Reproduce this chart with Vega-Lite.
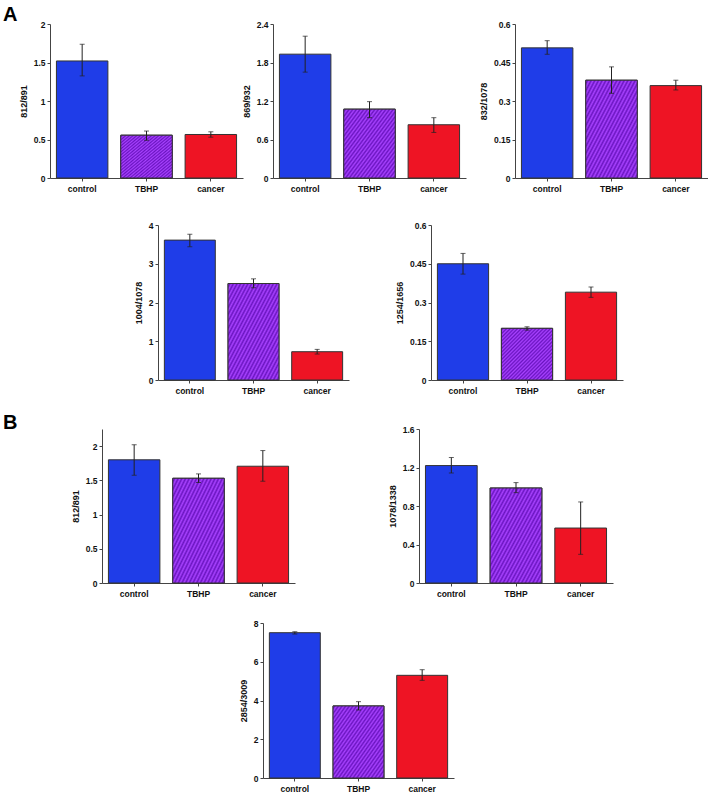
{
  "$schema": "https://vega.github.io/schema/vega-lite/v6.json",
  "padding": {"left": 3, "top": 5, "right": 0, "bottom": 0},
  "datasets": {
    "d": [
      {"panel": "p1", "group": "control", "value": 1.52, "lo": 1.326, "hi": 1.737},
      {"panel": "p1", "group": "TBHP", "value": 0.556, "lo": 0.49, "hi": 0.61},
      {"panel": "p1", "group": "cancer", "value": 0.565, "lo": 0.53, "hi": 0.6},
      {"panel": "p2", "group": "control", "value": 1.93, "lo": 1.65, "hi": 2.21},
      {"panel": "p2", "group": "TBHP", "value": 1.073, "lo": 0.94, "hi": 1.19},
      {"panel": "p2", "group": "cancer", "value": 0.83, "lo": 0.71, "hi": 0.94},
      {"panel": "p3", "group": "control", "value": 0.507, "lo": 0.482, "hi": 0.535},
      {"panel": "p3", "group": "TBHP", "value": 0.381, "lo": 0.33, "hi": 0.433},
      {"panel": "p3", "group": "cancer", "value": 0.36, "lo": 0.343, "hi": 0.381},
      {"panel": "p4", "group": "control", "value": 3.61, "lo": 3.44, "hi": 3.76},
      {"panel": "p4", "group": "TBHP", "value": 2.49, "lo": 2.38, "hi": 2.61},
      {"panel": "p4", "group": "cancer", "value": 0.73, "lo": 0.67, "hi": 0.79},
      {"panel": "p5", "group": "control", "value": 0.45, "lo": 0.41, "hi": 0.49},
      {"panel": "p5", "group": "TBHP", "value": 0.2, "lo": 0.193, "hi": 0.206},
      {"panel": "p5", "group": "cancer", "value": 0.34, "lo": 0.32, "hi": 0.36},
      {"panel": "p6", "group": "control", "value": 1.8, "lo": 1.575, "hi": 2.02},
      {"panel": "p6", "group": "TBHP", "value": 1.53, "lo": 1.468, "hi": 1.594},
      {"panel": "p6", "group": "cancer", "value": 1.706, "lo": 1.487, "hi": 1.935},
      {"panel": "p7", "group": "control", "value": 1.22, "lo": 1.143, "hi": 1.303},
      {"panel": "p7", "group": "TBHP", "value": 0.987, "lo": 0.939, "hi": 1.043},
      {"panel": "p7", "group": "cancer", "value": 0.571, "lo": 0.298, "hi": 0.842},
      {"panel": "p8", "group": "control", "value": 7.5, "lo": 7.43, "hi": 7.55},
      {"panel": "p8", "group": "TBHP", "value": 3.72, "lo": 3.51, "hi": 3.94},
      {"panel": "p8", "group": "cancer", "value": 5.3, "lo": 5.04, "hi": 5.59}
    ]
  },
  "bounds": "full",
  "spacing": 0,
  "vconcat": [
    {
      "title": {"text": "A", "dx": -47, "offset": -5, "frame": "group"},
      "bounds": "flush",
      "spacing": 0,
      "hconcat": [
        {
          "width": 193, "height": 154,
          "data": {"name": "d"},
          "transform": [{"filter": "datum.panel == 'p1'"}],
          "encoding": {"x": {"field": "group", "type": "nominal", "sort": ["control", "TBHP", "cancer"], "scale": {"paddingInner": 0.2, "paddingOuter": 0.1}}},
          "layer": [
            {"mark": {"type": "bar", "stroke": "#333", "strokeWidth": 1},
             "encoding": {"y": {"field": "value", "type": "quantitative", "title": "812/891", "scale": {"domain": [0, 2], "nice": false}, "axis": {"values": [0, 0.5, 1, 1.5, 2]}},
                          "fill": {"field": "group", "type": "nominal", "scale": {"domain": ["control", "TBHP", "cancer"], "range": ["#1f3de8", "#8a2be0", "#ee1424"]}, "legend": null}}},
            {"transform": [{"filter": "datum.group === 'TBHP'"}],
             "mark": {"type": "bar", "stroke": "#333", "strokeWidth": 1, "fill": {"gradient": "linear", "x1": 0, "y1": 0, "x2": 1, "y2": 1, "stops": [{"offset": 0, "color": "#a842ff"}, {"offset": 0.01786, "color": "#6a14c0"}, {"offset": 0.03571, "color": "#a842ff"}, {"offset": 0.05357, "color": "#6a14c0"}, {"offset": 0.07143, "color": "#a842ff"}, {"offset": 0.08929, "color": "#6a14c0"}, {"offset": 0.10714, "color": "#a842ff"}, {"offset": 0.125, "color": "#6a14c0"}, {"offset": 0.14286, "color": "#a842ff"}, {"offset": 0.16071, "color": "#6a14c0"}, {"offset": 0.17857, "color": "#a842ff"}, {"offset": 0.19643, "color": "#6a14c0"}, {"offset": 0.21429, "color": "#a842ff"}, {"offset": 0.23214, "color": "#6a14c0"}, {"offset": 0.25, "color": "#a842ff"}, {"offset": 0.26786, "color": "#6a14c0"}, {"offset": 0.28571, "color": "#a842ff"}, {"offset": 0.30357, "color": "#6a14c0"}, {"offset": 0.32143, "color": "#a842ff"}, {"offset": 0.33929, "color": "#6a14c0"}, {"offset": 0.35714, "color": "#a842ff"}, {"offset": 0.375, "color": "#6a14c0"}, {"offset": 0.39286, "color": "#a842ff"}, {"offset": 0.41071, "color": "#6a14c0"}, {"offset": 0.42857, "color": "#a842ff"}, {"offset": 0.44643, "color": "#6a14c0"}, {"offset": 0.46429, "color": "#a842ff"}, {"offset": 0.48214, "color": "#6a14c0"}, {"offset": 0.5, "color": "#a842ff"}, {"offset": 0.51786, "color": "#6a14c0"}, {"offset": 0.53571, "color": "#a842ff"}, {"offset": 0.55357, "color": "#6a14c0"}, {"offset": 0.57143, "color": "#a842ff"}, {"offset": 0.58929, "color": "#6a14c0"}, {"offset": 0.60714, "color": "#a842ff"}, {"offset": 0.625, "color": "#6a14c0"}, {"offset": 0.64286, "color": "#a842ff"}, {"offset": 0.66071, "color": "#6a14c0"}, {"offset": 0.67857, "color": "#a842ff"}, {"offset": 0.69643, "color": "#6a14c0"}, {"offset": 0.71429, "color": "#a842ff"}, {"offset": 0.73214, "color": "#6a14c0"}, {"offset": 0.75, "color": "#a842ff"}, {"offset": 0.76786, "color": "#6a14c0"}, {"offset": 0.78571, "color": "#a842ff"}, {"offset": 0.80357, "color": "#6a14c0"}, {"offset": 0.82143, "color": "#a842ff"}, {"offset": 0.83929, "color": "#6a14c0"}, {"offset": 0.85714, "color": "#a842ff"}, {"offset": 0.875, "color": "#6a14c0"}, {"offset": 0.89286, "color": "#a842ff"}, {"offset": 0.91071, "color": "#6a14c0"}, {"offset": 0.92857, "color": "#a842ff"}, {"offset": 0.94643, "color": "#6a14c0"}, {"offset": 0.96429, "color": "#a842ff"}, {"offset": 0.98214, "color": "#6a14c0"}, {"offset": 1, "color": "#a842ff"}]}},
             "encoding": {"y": {"field": "value", "type": "quantitative", "title": "812/891", "axis": {"values": [0, 0.5, 1, 1.5, 2]}}}},
            {"mark": {"type": "rule", "color": "#222", "strokeWidth": 1}, "encoding": {"y": {"field": "lo", "type": "quantitative", "title": "812/891", "axis": {"values": [0, 0.5, 1, 1.5, 2]}}, "y2": {"field": "hi"}}},
            {"mark": {"type": "tick", "color": "#222", "size": 5, "thickness": 1}, "encoding": {"y": {"field": "lo", "type": "quantitative", "title": "812/891", "axis": {"values": [0, 0.5, 1, 1.5, 2]}}}},
            {"mark": {"type": "tick", "color": "#222", "size": 5, "thickness": 1}, "encoding": {"y": {"field": "hi", "type": "quantitative", "title": "812/891", "axis": {"values": [0, 0.5, 1, 1.5, 2]}}}}
          ]
        },
        {"width": 30, "height": 1, "data": {"values": []}, "mark": "point"},
        {
          "width": 193, "height": 154,
          "data": {"name": "d"},
          "transform": [{"filter": "datum.panel == 'p2'"}],
          "encoding": {"x": {"field": "group", "type": "nominal", "sort": ["control", "TBHP", "cancer"], "scale": {"paddingInner": 0.2, "paddingOuter": 0.1}}},
          "layer": [
            {"mark": {"type": "bar", "stroke": "#333", "strokeWidth": 1},
             "encoding": {"y": {"field": "value", "type": "quantitative", "title": "869/932", "scale": {"domain": [0, 2.4], "nice": false}, "axis": {"values": [0, 0.6, 1.2, 1.8, 2.4]}},
                          "fill": {"field": "group", "type": "nominal", "scale": {"domain": ["control", "TBHP", "cancer"], "range": ["#1f3de8", "#8a2be0", "#ee1424"]}, "legend": null}}},
            {"transform": [{"filter": "datum.group === 'TBHP'"}],
             "mark": {"type": "bar", "stroke": "#333", "strokeWidth": 1, "fill": {"gradient": "linear", "x1": 0, "y1": 0, "x2": 1, "y2": 1, "stops": [{"offset": 0, "color": "#a842ff"}, {"offset": 0.01786, "color": "#6a14c0"}, {"offset": 0.03571, "color": "#a842ff"}, {"offset": 0.05357, "color": "#6a14c0"}, {"offset": 0.07143, "color": "#a842ff"}, {"offset": 0.08929, "color": "#6a14c0"}, {"offset": 0.10714, "color": "#a842ff"}, {"offset": 0.125, "color": "#6a14c0"}, {"offset": 0.14286, "color": "#a842ff"}, {"offset": 0.16071, "color": "#6a14c0"}, {"offset": 0.17857, "color": "#a842ff"}, {"offset": 0.19643, "color": "#6a14c0"}, {"offset": 0.21429, "color": "#a842ff"}, {"offset": 0.23214, "color": "#6a14c0"}, {"offset": 0.25, "color": "#a842ff"}, {"offset": 0.26786, "color": "#6a14c0"}, {"offset": 0.28571, "color": "#a842ff"}, {"offset": 0.30357, "color": "#6a14c0"}, {"offset": 0.32143, "color": "#a842ff"}, {"offset": 0.33929, "color": "#6a14c0"}, {"offset": 0.35714, "color": "#a842ff"}, {"offset": 0.375, "color": "#6a14c0"}, {"offset": 0.39286, "color": "#a842ff"}, {"offset": 0.41071, "color": "#6a14c0"}, {"offset": 0.42857, "color": "#a842ff"}, {"offset": 0.44643, "color": "#6a14c0"}, {"offset": 0.46429, "color": "#a842ff"}, {"offset": 0.48214, "color": "#6a14c0"}, {"offset": 0.5, "color": "#a842ff"}, {"offset": 0.51786, "color": "#6a14c0"}, {"offset": 0.53571, "color": "#a842ff"}, {"offset": 0.55357, "color": "#6a14c0"}, {"offset": 0.57143, "color": "#a842ff"}, {"offset": 0.58929, "color": "#6a14c0"}, {"offset": 0.60714, "color": "#a842ff"}, {"offset": 0.625, "color": "#6a14c0"}, {"offset": 0.64286, "color": "#a842ff"}, {"offset": 0.66071, "color": "#6a14c0"}, {"offset": 0.67857, "color": "#a842ff"}, {"offset": 0.69643, "color": "#6a14c0"}, {"offset": 0.71429, "color": "#a842ff"}, {"offset": 0.73214, "color": "#6a14c0"}, {"offset": 0.75, "color": "#a842ff"}, {"offset": 0.76786, "color": "#6a14c0"}, {"offset": 0.78571, "color": "#a842ff"}, {"offset": 0.80357, "color": "#6a14c0"}, {"offset": 0.82143, "color": "#a842ff"}, {"offset": 0.83929, "color": "#6a14c0"}, {"offset": 0.85714, "color": "#a842ff"}, {"offset": 0.875, "color": "#6a14c0"}, {"offset": 0.89286, "color": "#a842ff"}, {"offset": 0.91071, "color": "#6a14c0"}, {"offset": 0.92857, "color": "#a842ff"}, {"offset": 0.94643, "color": "#6a14c0"}, {"offset": 0.96429, "color": "#a842ff"}, {"offset": 0.98214, "color": "#6a14c0"}, {"offset": 1, "color": "#a842ff"}]}},
             "encoding": {"y": {"field": "value", "type": "quantitative", "title": "869/932", "axis": {"values": [0, 0.6, 1.2, 1.8, 2.4]}}}},
            {"mark": {"type": "rule", "color": "#222", "strokeWidth": 1}, "encoding": {"y": {"field": "lo", "type": "quantitative", "title": "869/932", "axis": {"values": [0, 0.6, 1.2, 1.8, 2.4]}}, "y2": {"field": "hi"}}},
            {"mark": {"type": "tick", "color": "#222", "size": 5, "thickness": 1}, "encoding": {"y": {"field": "lo", "type": "quantitative", "title": "869/932", "axis": {"values": [0, 0.6, 1.2, 1.8, 2.4]}}}},
            {"mark": {"type": "tick", "color": "#222", "size": 5, "thickness": 1}, "encoding": {"y": {"field": "hi", "type": "quantitative", "title": "869/932", "axis": {"values": [0, 0.6, 1.2, 1.8, 2.4]}}}}
          ]
        },
        {"width": 49, "height": 1, "data": {"values": []}, "mark": "point"},
        {
          "width": 193, "height": 154,
          "data": {"name": "d"},
          "transform": [{"filter": "datum.panel == 'p3'"}],
          "encoding": {"x": {"field": "group", "type": "nominal", "sort": ["control", "TBHP", "cancer"], "scale": {"paddingInner": 0.2, "paddingOuter": 0.1}}},
          "layer": [
            {"mark": {"type": "bar", "stroke": "#333", "strokeWidth": 1},
             "encoding": {"y": {"field": "value", "type": "quantitative", "title": "832/1078", "scale": {"domain": [0, 0.6], "nice": false}, "axis": {"values": [0, 0.15, 0.3, 0.45, 0.6]}},
                          "fill": {"field": "group", "type": "nominal", "scale": {"domain": ["control", "TBHP", "cancer"], "range": ["#1f3de8", "#8a2be0", "#ee1424"]}, "legend": null}}},
            {"transform": [{"filter": "datum.group === 'TBHP'"}],
             "mark": {"type": "bar", "stroke": "#333", "strokeWidth": 1, "fill": {"gradient": "linear", "x1": 0, "y1": 0, "x2": 1, "y2": 1, "stops": [{"offset": 0, "color": "#a842ff"}, {"offset": 0.01786, "color": "#6a14c0"}, {"offset": 0.03571, "color": "#a842ff"}, {"offset": 0.05357, "color": "#6a14c0"}, {"offset": 0.07143, "color": "#a842ff"}, {"offset": 0.08929, "color": "#6a14c0"}, {"offset": 0.10714, "color": "#a842ff"}, {"offset": 0.125, "color": "#6a14c0"}, {"offset": 0.14286, "color": "#a842ff"}, {"offset": 0.16071, "color": "#6a14c0"}, {"offset": 0.17857, "color": "#a842ff"}, {"offset": 0.19643, "color": "#6a14c0"}, {"offset": 0.21429, "color": "#a842ff"}, {"offset": 0.23214, "color": "#6a14c0"}, {"offset": 0.25, "color": "#a842ff"}, {"offset": 0.26786, "color": "#6a14c0"}, {"offset": 0.28571, "color": "#a842ff"}, {"offset": 0.30357, "color": "#6a14c0"}, {"offset": 0.32143, "color": "#a842ff"}, {"offset": 0.33929, "color": "#6a14c0"}, {"offset": 0.35714, "color": "#a842ff"}, {"offset": 0.375, "color": "#6a14c0"}, {"offset": 0.39286, "color": "#a842ff"}, {"offset": 0.41071, "color": "#6a14c0"}, {"offset": 0.42857, "color": "#a842ff"}, {"offset": 0.44643, "color": "#6a14c0"}, {"offset": 0.46429, "color": "#a842ff"}, {"offset": 0.48214, "color": "#6a14c0"}, {"offset": 0.5, "color": "#a842ff"}, {"offset": 0.51786, "color": "#6a14c0"}, {"offset": 0.53571, "color": "#a842ff"}, {"offset": 0.55357, "color": "#6a14c0"}, {"offset": 0.57143, "color": "#a842ff"}, {"offset": 0.58929, "color": "#6a14c0"}, {"offset": 0.60714, "color": "#a842ff"}, {"offset": 0.625, "color": "#6a14c0"}, {"offset": 0.64286, "color": "#a842ff"}, {"offset": 0.66071, "color": "#6a14c0"}, {"offset": 0.67857, "color": "#a842ff"}, {"offset": 0.69643, "color": "#6a14c0"}, {"offset": 0.71429, "color": "#a842ff"}, {"offset": 0.73214, "color": "#6a14c0"}, {"offset": 0.75, "color": "#a842ff"}, {"offset": 0.76786, "color": "#6a14c0"}, {"offset": 0.78571, "color": "#a842ff"}, {"offset": 0.80357, "color": "#6a14c0"}, {"offset": 0.82143, "color": "#a842ff"}, {"offset": 0.83929, "color": "#6a14c0"}, {"offset": 0.85714, "color": "#a842ff"}, {"offset": 0.875, "color": "#6a14c0"}, {"offset": 0.89286, "color": "#a842ff"}, {"offset": 0.91071, "color": "#6a14c0"}, {"offset": 0.92857, "color": "#a842ff"}, {"offset": 0.94643, "color": "#6a14c0"}, {"offset": 0.96429, "color": "#a842ff"}, {"offset": 0.98214, "color": "#6a14c0"}, {"offset": 1, "color": "#a842ff"}]}},
             "encoding": {"y": {"field": "value", "type": "quantitative", "title": "832/1078", "axis": {"values": [0, 0.15, 0.3, 0.45, 0.6]}}}},
            {"mark": {"type": "rule", "color": "#222", "strokeWidth": 1}, "encoding": {"y": {"field": "lo", "type": "quantitative", "title": "832/1078", "axis": {"values": [0, 0.15, 0.3, 0.45, 0.6]}}, "y2": {"field": "hi"}}},
            {"mark": {"type": "tick", "color": "#222", "size": 5, "thickness": 1}, "encoding": {"y": {"field": "lo", "type": "quantitative", "title": "832/1078", "axis": {"values": [0, 0.15, 0.3, 0.45, 0.6]}}}},
            {"mark": {"type": "tick", "color": "#222", "size": 5, "thickness": 1}, "encoding": {"y": {"field": "hi", "type": "quantitative", "title": "832/1078", "axis": {"values": [0, 0.15, 0.3, 0.45, 0.6]}}}}
          ]
        }
      ]
    },
    {
      "title": {"text": "A", "dx": -47, "offset": 7.75, "frame": "group", "color": "rgba(0,0,0,0)"},
      "bounds": "flush",
      "spacing": 0,
      "hconcat": [
        {"width": 108, "height": 1, "data": {"values": []}, "mark": "point"},
        {
          "width": 191, "height": 155,
          "data": {"name": "d"},
          "transform": [{"filter": "datum.panel == 'p4'"}],
          "encoding": {"x": {"field": "group", "type": "nominal", "sort": ["control", "TBHP", "cancer"], "scale": {"paddingInner": 0.2, "paddingOuter": 0.1}}},
          "layer": [
            {"mark": {"type": "bar", "stroke": "#333", "strokeWidth": 1},
             "encoding": {"y": {"field": "value", "type": "quantitative", "title": "1004/1078", "scale": {"domain": [0, 4], "nice": false}, "axis": {"values": [0, 1, 2, 3, 4]}},
                          "fill": {"field": "group", "type": "nominal", "scale": {"domain": ["control", "TBHP", "cancer"], "range": ["#1f3de8", "#8a2be0", "#ee1424"]}, "legend": null}}},
            {"transform": [{"filter": "datum.group === 'TBHP'"}],
             "mark": {"type": "bar", "stroke": "#333", "strokeWidth": 1, "fill": {"gradient": "linear", "x1": 0, "y1": 0, "x2": 1, "y2": 1, "stops": [{"offset": 0, "color": "#a842ff"}, {"offset": 0.01786, "color": "#6a14c0"}, {"offset": 0.03571, "color": "#a842ff"}, {"offset": 0.05357, "color": "#6a14c0"}, {"offset": 0.07143, "color": "#a842ff"}, {"offset": 0.08929, "color": "#6a14c0"}, {"offset": 0.10714, "color": "#a842ff"}, {"offset": 0.125, "color": "#6a14c0"}, {"offset": 0.14286, "color": "#a842ff"}, {"offset": 0.16071, "color": "#6a14c0"}, {"offset": 0.17857, "color": "#a842ff"}, {"offset": 0.19643, "color": "#6a14c0"}, {"offset": 0.21429, "color": "#a842ff"}, {"offset": 0.23214, "color": "#6a14c0"}, {"offset": 0.25, "color": "#a842ff"}, {"offset": 0.26786, "color": "#6a14c0"}, {"offset": 0.28571, "color": "#a842ff"}, {"offset": 0.30357, "color": "#6a14c0"}, {"offset": 0.32143, "color": "#a842ff"}, {"offset": 0.33929, "color": "#6a14c0"}, {"offset": 0.35714, "color": "#a842ff"}, {"offset": 0.375, "color": "#6a14c0"}, {"offset": 0.39286, "color": "#a842ff"}, {"offset": 0.41071, "color": "#6a14c0"}, {"offset": 0.42857, "color": "#a842ff"}, {"offset": 0.44643, "color": "#6a14c0"}, {"offset": 0.46429, "color": "#a842ff"}, {"offset": 0.48214, "color": "#6a14c0"}, {"offset": 0.5, "color": "#a842ff"}, {"offset": 0.51786, "color": "#6a14c0"}, {"offset": 0.53571, "color": "#a842ff"}, {"offset": 0.55357, "color": "#6a14c0"}, {"offset": 0.57143, "color": "#a842ff"}, {"offset": 0.58929, "color": "#6a14c0"}, {"offset": 0.60714, "color": "#a842ff"}, {"offset": 0.625, "color": "#6a14c0"}, {"offset": 0.64286, "color": "#a842ff"}, {"offset": 0.66071, "color": "#6a14c0"}, {"offset": 0.67857, "color": "#a842ff"}, {"offset": 0.69643, "color": "#6a14c0"}, {"offset": 0.71429, "color": "#a842ff"}, {"offset": 0.73214, "color": "#6a14c0"}, {"offset": 0.75, "color": "#a842ff"}, {"offset": 0.76786, "color": "#6a14c0"}, {"offset": 0.78571, "color": "#a842ff"}, {"offset": 0.80357, "color": "#6a14c0"}, {"offset": 0.82143, "color": "#a842ff"}, {"offset": 0.83929, "color": "#6a14c0"}, {"offset": 0.85714, "color": "#a842ff"}, {"offset": 0.875, "color": "#6a14c0"}, {"offset": 0.89286, "color": "#a842ff"}, {"offset": 0.91071, "color": "#6a14c0"}, {"offset": 0.92857, "color": "#a842ff"}, {"offset": 0.94643, "color": "#6a14c0"}, {"offset": 0.96429, "color": "#a842ff"}, {"offset": 0.98214, "color": "#6a14c0"}, {"offset": 1, "color": "#a842ff"}]}},
             "encoding": {"y": {"field": "value", "type": "quantitative", "title": "1004/1078", "axis": {"values": [0, 1, 2, 3, 4]}}}},
            {"mark": {"type": "rule", "color": "#222", "strokeWidth": 1}, "encoding": {"y": {"field": "lo", "type": "quantitative", "title": "1004/1078", "axis": {"values": [0, 1, 2, 3, 4]}}, "y2": {"field": "hi"}}},
            {"mark": {"type": "tick", "color": "#222", "size": 5, "thickness": 1}, "encoding": {"y": {"field": "lo", "type": "quantitative", "title": "1004/1078", "axis": {"values": [0, 1, 2, 3, 4]}}}},
            {"mark": {"type": "tick", "color": "#222", "size": 5, "thickness": 1}, "encoding": {"y": {"field": "hi", "type": "quantitative", "title": "1004/1078", "axis": {"values": [0, 1, 2, 3, 4]}}}}
          ]
        },
        {"width": 82, "height": 1, "data": {"values": []}, "mark": "point"},
        {
          "width": 192, "height": 155,
          "data": {"name": "d"},
          "transform": [{"filter": "datum.panel == 'p5'"}],
          "encoding": {"x": {"field": "group", "type": "nominal", "sort": ["control", "TBHP", "cancer"], "scale": {"paddingInner": 0.2, "paddingOuter": 0.1}}},
          "layer": [
            {"mark": {"type": "bar", "stroke": "#333", "strokeWidth": 1},
             "encoding": {"y": {"field": "value", "type": "quantitative", "title": "1254/1656", "scale": {"domain": [0, 0.6], "nice": false}, "axis": {"values": [0, 0.15, 0.3, 0.45, 0.6]}},
                          "fill": {"field": "group", "type": "nominal", "scale": {"domain": ["control", "TBHP", "cancer"], "range": ["#1f3de8", "#8a2be0", "#ee1424"]}, "legend": null}}},
            {"transform": [{"filter": "datum.group === 'TBHP'"}],
             "mark": {"type": "bar", "stroke": "#333", "strokeWidth": 1, "fill": {"gradient": "linear", "x1": 0, "y1": 0, "x2": 1, "y2": 1, "stops": [{"offset": 0, "color": "#a842ff"}, {"offset": 0.01786, "color": "#6a14c0"}, {"offset": 0.03571, "color": "#a842ff"}, {"offset": 0.05357, "color": "#6a14c0"}, {"offset": 0.07143, "color": "#a842ff"}, {"offset": 0.08929, "color": "#6a14c0"}, {"offset": 0.10714, "color": "#a842ff"}, {"offset": 0.125, "color": "#6a14c0"}, {"offset": 0.14286, "color": "#a842ff"}, {"offset": 0.16071, "color": "#6a14c0"}, {"offset": 0.17857, "color": "#a842ff"}, {"offset": 0.19643, "color": "#6a14c0"}, {"offset": 0.21429, "color": "#a842ff"}, {"offset": 0.23214, "color": "#6a14c0"}, {"offset": 0.25, "color": "#a842ff"}, {"offset": 0.26786, "color": "#6a14c0"}, {"offset": 0.28571, "color": "#a842ff"}, {"offset": 0.30357, "color": "#6a14c0"}, {"offset": 0.32143, "color": "#a842ff"}, {"offset": 0.33929, "color": "#6a14c0"}, {"offset": 0.35714, "color": "#a842ff"}, {"offset": 0.375, "color": "#6a14c0"}, {"offset": 0.39286, "color": "#a842ff"}, {"offset": 0.41071, "color": "#6a14c0"}, {"offset": 0.42857, "color": "#a842ff"}, {"offset": 0.44643, "color": "#6a14c0"}, {"offset": 0.46429, "color": "#a842ff"}, {"offset": 0.48214, "color": "#6a14c0"}, {"offset": 0.5, "color": "#a842ff"}, {"offset": 0.51786, "color": "#6a14c0"}, {"offset": 0.53571, "color": "#a842ff"}, {"offset": 0.55357, "color": "#6a14c0"}, {"offset": 0.57143, "color": "#a842ff"}, {"offset": 0.58929, "color": "#6a14c0"}, {"offset": 0.60714, "color": "#a842ff"}, {"offset": 0.625, "color": "#6a14c0"}, {"offset": 0.64286, "color": "#a842ff"}, {"offset": 0.66071, "color": "#6a14c0"}, {"offset": 0.67857, "color": "#a842ff"}, {"offset": 0.69643, "color": "#6a14c0"}, {"offset": 0.71429, "color": "#a842ff"}, {"offset": 0.73214, "color": "#6a14c0"}, {"offset": 0.75, "color": "#a842ff"}, {"offset": 0.76786, "color": "#6a14c0"}, {"offset": 0.78571, "color": "#a842ff"}, {"offset": 0.80357, "color": "#6a14c0"}, {"offset": 0.82143, "color": "#a842ff"}, {"offset": 0.83929, "color": "#6a14c0"}, {"offset": 0.85714, "color": "#a842ff"}, {"offset": 0.875, "color": "#6a14c0"}, {"offset": 0.89286, "color": "#a842ff"}, {"offset": 0.91071, "color": "#6a14c0"}, {"offset": 0.92857, "color": "#a842ff"}, {"offset": 0.94643, "color": "#6a14c0"}, {"offset": 0.96429, "color": "#a842ff"}, {"offset": 0.98214, "color": "#6a14c0"}, {"offset": 1, "color": "#a842ff"}]}},
             "encoding": {"y": {"field": "value", "type": "quantitative", "title": "1254/1656", "axis": {"values": [0, 0.15, 0.3, 0.45, 0.6]}}}},
            {"mark": {"type": "rule", "color": "#222", "strokeWidth": 1}, "encoding": {"y": {"field": "lo", "type": "quantitative", "title": "1254/1656", "axis": {"values": [0, 0.15, 0.3, 0.45, 0.6]}}, "y2": {"field": "hi"}}},
            {"mark": {"type": "tick", "color": "#222", "size": 5, "thickness": 1}, "encoding": {"y": {"field": "lo", "type": "quantitative", "title": "1254/1656", "axis": {"values": [0, 0.15, 0.3, 0.45, 0.6]}}}},
            {"mark": {"type": "tick", "color": "#222", "size": 5, "thickness": 1}, "encoding": {"y": {"field": "hi", "type": "quantitative", "title": "1254/1656", "axis": {"values": [0, 0.15, 0.3, 0.45, 0.6]}}}}
          ]
        }
      ]
    },
    {
      "title": {"text": "A", "dx": -47, "offset": -2.6, "frame": "group", "color": "rgba(0,0,0,0)"},
      "bounds": "flush",
      "spacing": 0,
      "hconcat": [
        {"width": 52, "height": 1, "data": {"values": []}, "mark": "point"},
        {
          "width": 193, "height": 154,
          "title": {"text": "B", "dx": -99, "offset": -4, "frame": "group"},
          "data": {"name": "d"},
          "transform": [{"filter": "datum.panel == 'p6'"}],
          "encoding": {"x": {"field": "group", "type": "nominal", "sort": ["control", "TBHP", "cancer"], "scale": {"paddingInner": 0.2, "paddingOuter": 0.1}}},
          "layer": [
            {"mark": {"type": "bar", "stroke": "#333", "strokeWidth": 1},
             "encoding": {"y": {"field": "value", "type": "quantitative", "title": "812/891", "scale": {"domain": [0, 2.25], "nice": false}, "axis": {"values": [0, 0.5, 1, 1.5, 2]}},
                          "fill": {"field": "group", "type": "nominal", "scale": {"domain": ["control", "TBHP", "cancer"], "range": ["#1f3de8", "#8a2be0", "#ee1424"]}, "legend": null}}},
            {"transform": [{"filter": "datum.group === 'TBHP'"}],
             "mark": {"type": "bar", "stroke": "#333", "strokeWidth": 1, "fill": {"gradient": "linear", "x1": 0, "y1": 0, "x2": 1, "y2": 1, "stops": [{"offset": 0, "color": "#a842ff"}, {"offset": 0.01786, "color": "#6a14c0"}, {"offset": 0.03571, "color": "#a842ff"}, {"offset": 0.05357, "color": "#6a14c0"}, {"offset": 0.07143, "color": "#a842ff"}, {"offset": 0.08929, "color": "#6a14c0"}, {"offset": 0.10714, "color": "#a842ff"}, {"offset": 0.125, "color": "#6a14c0"}, {"offset": 0.14286, "color": "#a842ff"}, {"offset": 0.16071, "color": "#6a14c0"}, {"offset": 0.17857, "color": "#a842ff"}, {"offset": 0.19643, "color": "#6a14c0"}, {"offset": 0.21429, "color": "#a842ff"}, {"offset": 0.23214, "color": "#6a14c0"}, {"offset": 0.25, "color": "#a842ff"}, {"offset": 0.26786, "color": "#6a14c0"}, {"offset": 0.28571, "color": "#a842ff"}, {"offset": 0.30357, "color": "#6a14c0"}, {"offset": 0.32143, "color": "#a842ff"}, {"offset": 0.33929, "color": "#6a14c0"}, {"offset": 0.35714, "color": "#a842ff"}, {"offset": 0.375, "color": "#6a14c0"}, {"offset": 0.39286, "color": "#a842ff"}, {"offset": 0.41071, "color": "#6a14c0"}, {"offset": 0.42857, "color": "#a842ff"}, {"offset": 0.44643, "color": "#6a14c0"}, {"offset": 0.46429, "color": "#a842ff"}, {"offset": 0.48214, "color": "#6a14c0"}, {"offset": 0.5, "color": "#a842ff"}, {"offset": 0.51786, "color": "#6a14c0"}, {"offset": 0.53571, "color": "#a842ff"}, {"offset": 0.55357, "color": "#6a14c0"}, {"offset": 0.57143, "color": "#a842ff"}, {"offset": 0.58929, "color": "#6a14c0"}, {"offset": 0.60714, "color": "#a842ff"}, {"offset": 0.625, "color": "#6a14c0"}, {"offset": 0.64286, "color": "#a842ff"}, {"offset": 0.66071, "color": "#6a14c0"}, {"offset": 0.67857, "color": "#a842ff"}, {"offset": 0.69643, "color": "#6a14c0"}, {"offset": 0.71429, "color": "#a842ff"}, {"offset": 0.73214, "color": "#6a14c0"}, {"offset": 0.75, "color": "#a842ff"}, {"offset": 0.76786, "color": "#6a14c0"}, {"offset": 0.78571, "color": "#a842ff"}, {"offset": 0.80357, "color": "#6a14c0"}, {"offset": 0.82143, "color": "#a842ff"}, {"offset": 0.83929, "color": "#6a14c0"}, {"offset": 0.85714, "color": "#a842ff"}, {"offset": 0.875, "color": "#6a14c0"}, {"offset": 0.89286, "color": "#a842ff"}, {"offset": 0.91071, "color": "#6a14c0"}, {"offset": 0.92857, "color": "#a842ff"}, {"offset": 0.94643, "color": "#6a14c0"}, {"offset": 0.96429, "color": "#a842ff"}, {"offset": 0.98214, "color": "#6a14c0"}, {"offset": 1, "color": "#a842ff"}]}},
             "encoding": {"y": {"field": "value", "type": "quantitative", "title": "812/891", "axis": {"values": [0, 0.5, 1, 1.5, 2]}}}},
            {"mark": {"type": "rule", "color": "#222", "strokeWidth": 1}, "encoding": {"y": {"field": "lo", "type": "quantitative", "title": "812/891", "axis": {"values": [0, 0.5, 1, 1.5, 2]}}, "y2": {"field": "hi"}}},
            {"mark": {"type": "tick", "color": "#222", "size": 5, "thickness": 1}, "encoding": {"y": {"field": "lo", "type": "quantitative", "title": "812/891", "axis": {"values": [0, 0.5, 1, 1.5, 2]}}}},
            {"mark": {"type": "tick", "color": "#222", "size": 5, "thickness": 1}, "encoding": {"y": {"field": "hi", "type": "quantitative", "title": "812/891", "axis": {"values": [0, 0.5, 1, 1.5, 2]}}}}
          ]
        },
        {"width": 124, "height": 1, "data": {"values": []}, "mark": "point"},
        {
          "width": 194, "height": 154,
          "data": {"name": "d"},
          "transform": [{"filter": "datum.panel == 'p7'"}],
          "encoding": {"x": {"field": "group", "type": "nominal", "sort": ["control", "TBHP", "cancer"], "scale": {"paddingInner": 0.2, "paddingOuter": 0.1}}},
          "layer": [
            {"mark": {"type": "bar", "stroke": "#333", "strokeWidth": 1},
             "encoding": {"y": {"field": "value", "type": "quantitative", "title": "1078/1338", "scale": {"domain": [0, 1.6], "nice": false}, "axis": {"values": [0, 0.4, 0.8, 1.2, 1.6]}},
                          "fill": {"field": "group", "type": "nominal", "scale": {"domain": ["control", "TBHP", "cancer"], "range": ["#1f3de8", "#8a2be0", "#ee1424"]}, "legend": null}}},
            {"transform": [{"filter": "datum.group === 'TBHP'"}],
             "mark": {"type": "bar", "stroke": "#333", "strokeWidth": 1, "fill": {"gradient": "linear", "x1": 0, "y1": 0, "x2": 1, "y2": 1, "stops": [{"offset": 0, "color": "#a842ff"}, {"offset": 0.01786, "color": "#6a14c0"}, {"offset": 0.03571, "color": "#a842ff"}, {"offset": 0.05357, "color": "#6a14c0"}, {"offset": 0.07143, "color": "#a842ff"}, {"offset": 0.08929, "color": "#6a14c0"}, {"offset": 0.10714, "color": "#a842ff"}, {"offset": 0.125, "color": "#6a14c0"}, {"offset": 0.14286, "color": "#a842ff"}, {"offset": 0.16071, "color": "#6a14c0"}, {"offset": 0.17857, "color": "#a842ff"}, {"offset": 0.19643, "color": "#6a14c0"}, {"offset": 0.21429, "color": "#a842ff"}, {"offset": 0.23214, "color": "#6a14c0"}, {"offset": 0.25, "color": "#a842ff"}, {"offset": 0.26786, "color": "#6a14c0"}, {"offset": 0.28571, "color": "#a842ff"}, {"offset": 0.30357, "color": "#6a14c0"}, {"offset": 0.32143, "color": "#a842ff"}, {"offset": 0.33929, "color": "#6a14c0"}, {"offset": 0.35714, "color": "#a842ff"}, {"offset": 0.375, "color": "#6a14c0"}, {"offset": 0.39286, "color": "#a842ff"}, {"offset": 0.41071, "color": "#6a14c0"}, {"offset": 0.42857, "color": "#a842ff"}, {"offset": 0.44643, "color": "#6a14c0"}, {"offset": 0.46429, "color": "#a842ff"}, {"offset": 0.48214, "color": "#6a14c0"}, {"offset": 0.5, "color": "#a842ff"}, {"offset": 0.51786, "color": "#6a14c0"}, {"offset": 0.53571, "color": "#a842ff"}, {"offset": 0.55357, "color": "#6a14c0"}, {"offset": 0.57143, "color": "#a842ff"}, {"offset": 0.58929, "color": "#6a14c0"}, {"offset": 0.60714, "color": "#a842ff"}, {"offset": 0.625, "color": "#6a14c0"}, {"offset": 0.64286, "color": "#a842ff"}, {"offset": 0.66071, "color": "#6a14c0"}, {"offset": 0.67857, "color": "#a842ff"}, {"offset": 0.69643, "color": "#6a14c0"}, {"offset": 0.71429, "color": "#a842ff"}, {"offset": 0.73214, "color": "#6a14c0"}, {"offset": 0.75, "color": "#a842ff"}, {"offset": 0.76786, "color": "#6a14c0"}, {"offset": 0.78571, "color": "#a842ff"}, {"offset": 0.80357, "color": "#6a14c0"}, {"offset": 0.82143, "color": "#a842ff"}, {"offset": 0.83929, "color": "#6a14c0"}, {"offset": 0.85714, "color": "#a842ff"}, {"offset": 0.875, "color": "#6a14c0"}, {"offset": 0.89286, "color": "#a842ff"}, {"offset": 0.91071, "color": "#6a14c0"}, {"offset": 0.92857, "color": "#a842ff"}, {"offset": 0.94643, "color": "#6a14c0"}, {"offset": 0.96429, "color": "#a842ff"}, {"offset": 0.98214, "color": "#6a14c0"}, {"offset": 1, "color": "#a842ff"}]}},
             "encoding": {"y": {"field": "value", "type": "quantitative", "title": "1078/1338", "axis": {"values": [0, 0.4, 0.8, 1.2, 1.6]}}}},
            {"mark": {"type": "rule", "color": "#222", "strokeWidth": 1}, "encoding": {"y": {"field": "lo", "type": "quantitative", "title": "1078/1338", "axis": {"values": [0, 0.4, 0.8, 1.2, 1.6]}}, "y2": {"field": "hi"}}},
            {"mark": {"type": "tick", "color": "#222", "size": 5, "thickness": 1}, "encoding": {"y": {"field": "lo", "type": "quantitative", "title": "1078/1338", "axis": {"values": [0, 0.4, 0.8, 1.2, 1.6]}}}},
            {"mark": {"type": "tick", "color": "#222", "size": 5, "thickness": 1}, "encoding": {"y": {"field": "hi", "type": "quantitative", "title": "1078/1338", "axis": {"values": [0, 0.4, 0.8, 1.2, 1.6]}}}}
          ]
        }
      ]
    },
    {
      "title": {"text": "A", "dx": -47, "offset": 0.95, "frame": "group", "color": "rgba(0,0,0,0)"},
      "bounds": "flush",
      "spacing": 0,
      "hconcat": [
        {"width": 213, "height": 1, "data": {"values": []}, "mark": "point"},
        {
          "width": 191, "height": 155,
          "data": {"name": "d"},
          "transform": [{"filter": "datum.panel == 'p8'"}],
          "encoding": {"x": {"field": "group", "type": "nominal", "sort": ["control", "TBHP", "cancer"], "scale": {"paddingInner": 0.2, "paddingOuter": 0.1}}},
          "layer": [
            {"mark": {"type": "bar", "stroke": "#333", "strokeWidth": 1},
             "encoding": {"y": {"field": "value", "type": "quantitative", "title": "2854/3009", "scale": {"domain": [0, 8], "nice": false}, "axis": {"values": [0, 2, 4, 6, 8]}},
                          "fill": {"field": "group", "type": "nominal", "scale": {"domain": ["control", "TBHP", "cancer"], "range": ["#1f3de8", "#8a2be0", "#ee1424"]}, "legend": null}}},
            {"transform": [{"filter": "datum.group === 'TBHP'"}],
             "mark": {"type": "bar", "stroke": "#333", "strokeWidth": 1, "fill": {"gradient": "linear", "x1": 0, "y1": 0, "x2": 1, "y2": 1, "stops": [{"offset": 0, "color": "#a842ff"}, {"offset": 0.01786, "color": "#6a14c0"}, {"offset": 0.03571, "color": "#a842ff"}, {"offset": 0.05357, "color": "#6a14c0"}, {"offset": 0.07143, "color": "#a842ff"}, {"offset": 0.08929, "color": "#6a14c0"}, {"offset": 0.10714, "color": "#a842ff"}, {"offset": 0.125, "color": "#6a14c0"}, {"offset": 0.14286, "color": "#a842ff"}, {"offset": 0.16071, "color": "#6a14c0"}, {"offset": 0.17857, "color": "#a842ff"}, {"offset": 0.19643, "color": "#6a14c0"}, {"offset": 0.21429, "color": "#a842ff"}, {"offset": 0.23214, "color": "#6a14c0"}, {"offset": 0.25, "color": "#a842ff"}, {"offset": 0.26786, "color": "#6a14c0"}, {"offset": 0.28571, "color": "#a842ff"}, {"offset": 0.30357, "color": "#6a14c0"}, {"offset": 0.32143, "color": "#a842ff"}, {"offset": 0.33929, "color": "#6a14c0"}, {"offset": 0.35714, "color": "#a842ff"}, {"offset": 0.375, "color": "#6a14c0"}, {"offset": 0.39286, "color": "#a842ff"}, {"offset": 0.41071, "color": "#6a14c0"}, {"offset": 0.42857, "color": "#a842ff"}, {"offset": 0.44643, "color": "#6a14c0"}, {"offset": 0.46429, "color": "#a842ff"}, {"offset": 0.48214, "color": "#6a14c0"}, {"offset": 0.5, "color": "#a842ff"}, {"offset": 0.51786, "color": "#6a14c0"}, {"offset": 0.53571, "color": "#a842ff"}, {"offset": 0.55357, "color": "#6a14c0"}, {"offset": 0.57143, "color": "#a842ff"}, {"offset": 0.58929, "color": "#6a14c0"}, {"offset": 0.60714, "color": "#a842ff"}, {"offset": 0.625, "color": "#6a14c0"}, {"offset": 0.64286, "color": "#a842ff"}, {"offset": 0.66071, "color": "#6a14c0"}, {"offset": 0.67857, "color": "#a842ff"}, {"offset": 0.69643, "color": "#6a14c0"}, {"offset": 0.71429, "color": "#a842ff"}, {"offset": 0.73214, "color": "#6a14c0"}, {"offset": 0.75, "color": "#a842ff"}, {"offset": 0.76786, "color": "#6a14c0"}, {"offset": 0.78571, "color": "#a842ff"}, {"offset": 0.80357, "color": "#6a14c0"}, {"offset": 0.82143, "color": "#a842ff"}, {"offset": 0.83929, "color": "#6a14c0"}, {"offset": 0.85714, "color": "#a842ff"}, {"offset": 0.875, "color": "#6a14c0"}, {"offset": 0.89286, "color": "#a842ff"}, {"offset": 0.91071, "color": "#6a14c0"}, {"offset": 0.92857, "color": "#a842ff"}, {"offset": 0.94643, "color": "#6a14c0"}, {"offset": 0.96429, "color": "#a842ff"}, {"offset": 0.98214, "color": "#6a14c0"}, {"offset": 1, "color": "#a842ff"}]}},
             "encoding": {"y": {"field": "value", "type": "quantitative", "title": "2854/3009", "axis": {"values": [0, 2, 4, 6, 8]}}}},
            {"mark": {"type": "rule", "color": "#222", "strokeWidth": 1}, "encoding": {"y": {"field": "lo", "type": "quantitative", "title": "2854/3009", "axis": {"values": [0, 2, 4, 6, 8]}}, "y2": {"field": "hi"}}},
            {"mark": {"type": "tick", "color": "#222", "size": 5, "thickness": 1}, "encoding": {"y": {"field": "lo", "type": "quantitative", "title": "2854/3009", "axis": {"values": [0, 2, 4, 6, 8]}}}},
            {"mark": {"type": "tick", "color": "#222", "size": 5, "thickness": 1}, "encoding": {"y": {"field": "hi", "type": "quantitative", "title": "2854/3009", "axis": {"values": [0, 2, 4, 6, 8]}}}}
          ]
        }
      ]
    }
  ],
  "config": {
    "view": {"stroke": null},
    "font": "Liberation Sans",
    "title": {"font": "Liberation Sans", "fontSize": 20, "fontWeight": "bold", "anchor": "start", "color": "#000"},
    "axis": {
      "grid": false, "labelOverlap": false,
      "labelFont": "Liberation Sans", "labelFontWeight": "bold", "labelFontSize": 8.5, "labelColor": "#111",
      "titleFont": "Liberation Sans", "titleFontWeight": "bold", "titleFontSize": 9, "titleColor": "#111",
      "domainColor": "#444", "tickColor": "#444", "tickSize": 3, "labelPadding": 2
    },
    "axisX": {"title": null, "labelAngle": 0, "labelPadding": 3, "labelFontSize": 8.5},
    "axisY": {"titlePadding": 5, "labelExpr": "format(datum.value, '~g')"}
  }
}
